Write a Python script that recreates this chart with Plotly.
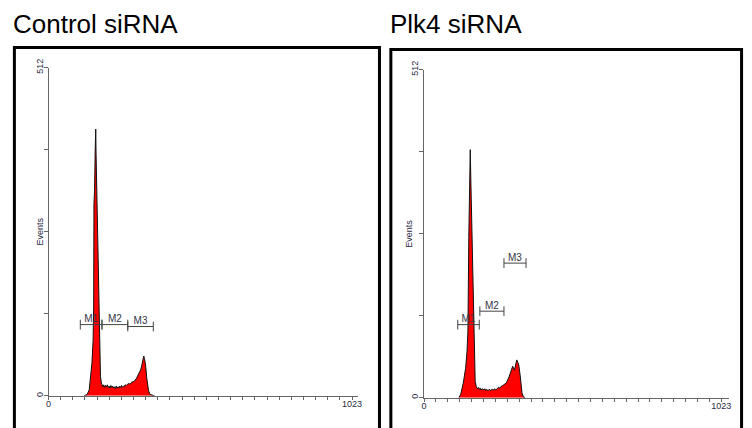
import plotly.graph_objects as go

W, H = 752, 428

# histogram outlines (channel, events)
ctrl_ch = [120, 130, 137, 142, 146, 150, 152, 153, 155, 157, 159, 160, 162, 164, 166, 168, 170,
           171, 173, 175, 178, 180, 183, 186, 189, 192, 195, 198, 201, 204, 207, 210, 213, 216,
           219, 222, 225, 228, 231, 234, 237, 240, 243, 246, 249, 252, 255, 258, 262, 266, 270,
           275, 280, 285, 290, 296, 301, 306, 310, 313, 316, 319, 321, 324, 327, 331, 334, 337,
           342, 350, 357]
ctrl_ev = [0, 2, 9, 28, 50, 85, 140, 300, 320, 380, 416, 380, 330, 300, 260, 200, 147,
           130, 60, 30, 20, 18, 14, 17, 13, 16, 14, 17, 13, 15, 12, 16, 13, 15,
           12, 14, 11, 15, 12, 14, 12, 15, 13, 16, 13, 15, 14, 17, 16, 18, 19,
           18, 21, 22, 23, 27, 31, 35, 40, 45, 51, 57, 62, 56, 48, 28, 18, 8,
           2, 1, 0]

plk4_ch = [120, 126, 135, 143, 148, 151, 154, 156, 158, 159, 161, 163, 165, 167, 169, 171, 173,
           176, 180, 184, 187, 190, 193, 196, 200, 203, 206, 209, 212, 215, 218, 221, 224, 227,
           230, 233, 236, 239, 243, 246, 249, 252, 256, 261, 266, 271, 276, 283, 292, 300, 305,
           311, 315, 319, 323, 326, 331, 337, 341, 348]
plk4_ev = [0, 5, 23, 46, 73, 104, 250, 300, 360, 387, 340, 290, 250, 220, 182, 120, 50,
           25, 17, 14, 16, 13, 15, 12, 14, 13, 12, 14, 11, 13, 12, 11, 13, 12,
           11, 13, 12, 12, 14, 12, 13, 15, 16, 15, 18, 19, 21, 23, 32, 42, 49,
           43, 52, 59, 55, 51, 34, 8, 2, 0]

# gate markers
gate_names = ["M1", "M2", "M3"]
ctrl_gate_start = [107, 180, 267]
ctrl_gate_end = [180, 267, 353]
ctrl_gate_level = [111, 111, 108]
plk4_gate_start = [116, 192, 275]
plk4_gate_end = [190, 275, 351]
plk4_gate_level = [114, 135, 210]

panel_titles = ["Control siRNA", "Plk4 siRNA"]
x_tick_text = ["0"] + [""] * 24 + ["1023"]
x_tick_vals = [i * 1023 / 25 for i in range(26)]
y_tick_vals = [0, 128, 256, 384, 512]
y_tick_text = ["0", "", "", "", "512"]


def px(v):
    return v / W


def py(v):
    return 1 - v / H


fig = go.Figure()

panels = [
    (ctrl_ch, ctrl_ev, ctrl_gate_start, ctrl_gate_end, ctrl_gate_level, "x", "y"),
    (plk4_ch, plk4_ev, plk4_gate_start, plk4_gate_end, plk4_gate_level, "x2", "y2"),
]

for ch, ev, gs, ge, gl, xa, ya in panels:
    fig.add_trace(go.Scatter(
        x=ch, y=ev, mode="lines", fill="tozeroy",
        fillcolor="#ff0000", line=dict(color="#111111", width=1),
        xaxis=xa, yaxis=ya, hoverinfo="skip", showlegend=False,
    ))
    for name, a, b, lvl in zip(gate_names, gs, ge, gl):
        fig.add_trace(go.Scatter(
            x=[a, b], y=[lvl, lvl], mode="lines+markers",
            line=dict(color="#444444", width=1),
            marker=dict(symbol="line-ns", size=7, line=dict(color="#444444", width=1)),
            xaxis=xa, yaxis=ya, hoverinfo="skip", showlegend=False,
        ))
        fig.add_trace(go.Scatter(
            x=[(a + b) / 2], y=[lvl], mode="text", text=[name],
            textposition="top center",
            textfont=dict(family="Liberation Sans, Arial", size=10, color="#333344"),
            xaxis=xa, yaxis=ya, hoverinfo="skip", showlegend=False,
        ))

axis_font = dict(family="Liberation Sans, Arial", size=9, color="#2a2a44")
xcommon = dict(showgrid=False, zeroline=False, showline=True,
               linecolor="#666666", linewidth=1, ticks="outside", ticklen=3,
               tickcolor="#666666", tickvals=x_tick_vals, ticktext=x_tick_text,
               tickfont=axis_font, ticklabelstandoff=-4, fixedrange=True)
ycommon = dict(range=[0, 512], showgrid=False, zeroline=False, showline=True,
               linecolor="#666666", linewidth=1, ticks="outside", ticklen=4,
               tickcolor="#666666", tickvals=y_tick_vals, ticktext=y_tick_text,
               tickangle=-90, tickfont=axis_font, ticklabelstandoff=-3,
               fixedrange=True)

fig.update_layout(
    width=W, height=H,
    margin=dict(l=0, r=0, t=0, b=0),
    paper_bgcolor="white", plot_bgcolor="white",
    xaxis=dict(domain=[px(46), px(358)], range=[0, 1042], anchor="y", **xcommon),
    yaxis=dict(domain=[py(396), py(60)], anchor="x", **ycommon),
    xaxis2=dict(domain=[px(425), px(733)], range=[0, 1050], anchor="y2", **xcommon),
    yaxis2=dict(domain=[py(398), py(62)], anchor="x2", **ycommon),
)

# panel frames, titles and "Events" labels
frames = [(11.5, 380, 39.5, 30, 228), (391.5, 745.5, 41.5, 409, 230)]
for (x0, x1, top, ex, ey), title in zip(frames, panel_titles):
    fig.add_shape(type="rect", xref="paper", yref="paper",
                  x0=px(x0), x1=px(x1), y0=-0.1, y1=py(top),
                  line=dict(color="black", width=3))
    fig.add_annotation(text=title, xref="paper", yref="paper",
                       x=px(x0 - 3), y=py(15), xanchor="left", yanchor="middle",
                       showarrow=False,
                       font=dict(family="Liberation Sans, Arial", size=26, color="black"))
    fig.add_annotation(text="Events", xref="paper", yref="paper",
                       x=px(ex), y=py(ey), textangle=-90, showarrow=False,
                       font=axis_font)

fig.write_html(
    "out.html",
    config={"displayModeBar": False},
    post_script="document.body.style.margin='0';"
                "document.body.style.overflow='hidden';"
                "document.documentElement.style.overflow='hidden';",
)
